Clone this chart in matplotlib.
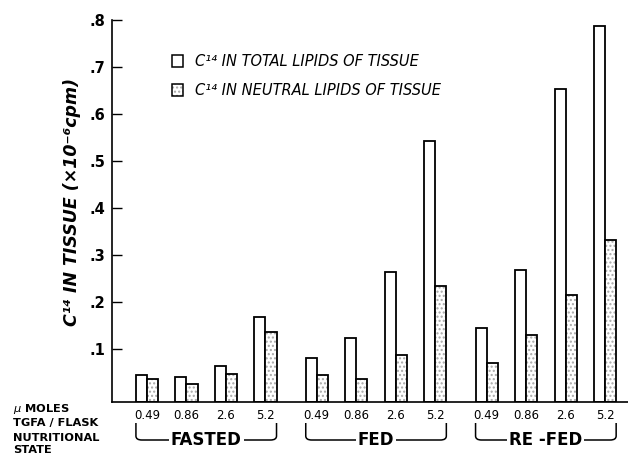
import numpy as np
import matplotlib
matplotlib.use("Agg")
import matplotlib.pyplot as plt
from matplotlib.path import Path
from matplotlib.patches import PathPatch, Rectangle
from matplotlib.transforms import blended_transform_factory

# values (x10^-6 cpm)
states = ["FASTED", "FED", "RE-FED"]
doses = ["0.49", "0.86", "2.6", "5.2"]
total_lipids = [0.045, 0.041, 0.064, 0.168,
                0.082, 0.125, 0.264, 0.543,
                0.145, 0.269, 0.654, 0.788]
neutral_lipids = [0.037, 0.026, 0.047, 0.137,
                  0.046, 0.036, 0.088, 0.234,
                  0.071, 0.130, 0.215, 0.333]
y_ticks = [0.1, 0.2, 0.3, 0.4, 0.5, 0.6, 0.7, 0.8]
y_tick_labels = [".1", ".2", ".3", ".4", ".5", ".6", ".7", ".8"]

W, H = 628, 457
BASE = -0.012
bw = 0.28
group_step = 4.3

def fy(p):
    return 1 - p / H

x = np.array([g * group_step + i for g in range(len(states)) for i in range(len(doses))])
total = np.array(total_lipids)
neutral = np.array(neutral_lipids)

fig = plt.figure(figsize=(W / 100, H / 100), dpi=100)
ax = fig.add_axes([112 / W, fy(402), 1 - 112 / W, (402 - 20) / H])

ax.bar(x - bw / 2, total - BASE, bw, bottom=BASE, facecolor="white",
       edgecolor="black", linewidth=1.3)
ax.bar(x + bw / 2, neutral - BASE, bw, bottom=BASE, facecolor="white",
       edgecolor="#a8a8a8", hatch="....", linewidth=0)
ax.bar(x + bw / 2, neutral - BASE, bw, bottom=BASE, fill=False,
       edgecolor="black", linewidth=1.3)

ax.set_xlim(-0.886, 12.18)
ax.set_ylim(BASE, 0.8)
for s in ["top", "right"]:
    ax.spines[s].set_visible(False)
for s in ["left", "bottom"]:
    ax.spines[s].set_linewidth(1.2)

ax.set_yticks(y_ticks, y_tick_labels, fontsize=10.5, fontweight="bold")
ax.tick_params(axis="y", direction="in", length=7, width=1, pad=5)
ax.set_xticks(x, doses * len(states), fontsize=8.5)
ax.tick_params(axis="x", length=0, pad=5)

# legend
h1 = Rectangle((0, 0), 1, 1, facecolor="white", edgecolor="black", linewidth=1.1)
h2a = Rectangle((0, 0), 1, 1, facecolor="white", edgecolor="#a8a8a8", hatch="....", linewidth=0)
h2b = Rectangle((0, 0), 1, 1, fill=False, edgecolor="black", linewidth=1.1)
ax.legend([h1, (h2a, h2b)],
          ["C\u00b9\u2074 IN TOTAL LIPIDS OF TISSUE",
           "C\u00b9\u2074 IN NEUTRAL LIPIDS OF TISSUE"],
          loc="upper left", bbox_to_anchor=(172 / W, fy(54)),
          bbox_transform=fig.transFigure, frameon=False,
          prop={"size": 10.5, "style": "italic"},
          handlelength=0.75, handleheight=0.85, handletextpad=0.8,
          labelspacing=0.95, borderpad=0, borderaxespad=0)

fig.text(72 / W, fy(202), "C\u00b9\u2074 IN TISSUE (\u00d710\u207b\u2076cpm)",
         rotation=90, ha="center", va="center", fontsize=12.5,
         fontweight="bold", style="italic")

# left-hand row labels
row_kw = dict(ha="left", va="baseline", fontsize=8.2, fontweight="bold")
fig.text(13 / W, fy(412), r"$\mu$ MOLES", **row_kw)
fig.text(13 / W, fy(426), "TGFA / FLASK", **row_kw)
fig.text(13 / W, fy(441), "NUTRITIONAL", **row_kw)
fig.text(13 / W, fy(453), "STATE", **row_kw)

# brackets under each nutritional state
tr = blended_transform_factory(ax.transData, fig.transFigure)
r = 0.15
for g, name in enumerate(states):
    x0 = x[g * 4] - bw
    x1 = x[g * 4 + 3] + bw
    yt, yc, yb = fy(423), fy(436), fy(440)
    verts = [(x0, yt), (x0, yc), (x0, yb), (x0 + r, yb),
             (x1 - r, yb), (x1, yb), (x1, yc), (x1, yt)]
    codes = [Path.MOVETO, Path.LINETO, Path.CURVE3, Path.CURVE3,
             Path.LINETO, Path.CURVE3, Path.CURVE3, Path.LINETO]
    fig.patches.append(PathPatch(Path(verts, codes), transform=tr, fill=False,
                                 edgecolor="black", linewidth=1.1))
    fig.text((x0 + x1) / 2, yb, name.replace("-", " -"), transform=tr,
             ha="center", va="center", fontsize=12, fontweight="bold",
             bbox=dict(facecolor="white", edgecolor="none", pad=1.5))

fig.savefig("out.png", dpi=100)
